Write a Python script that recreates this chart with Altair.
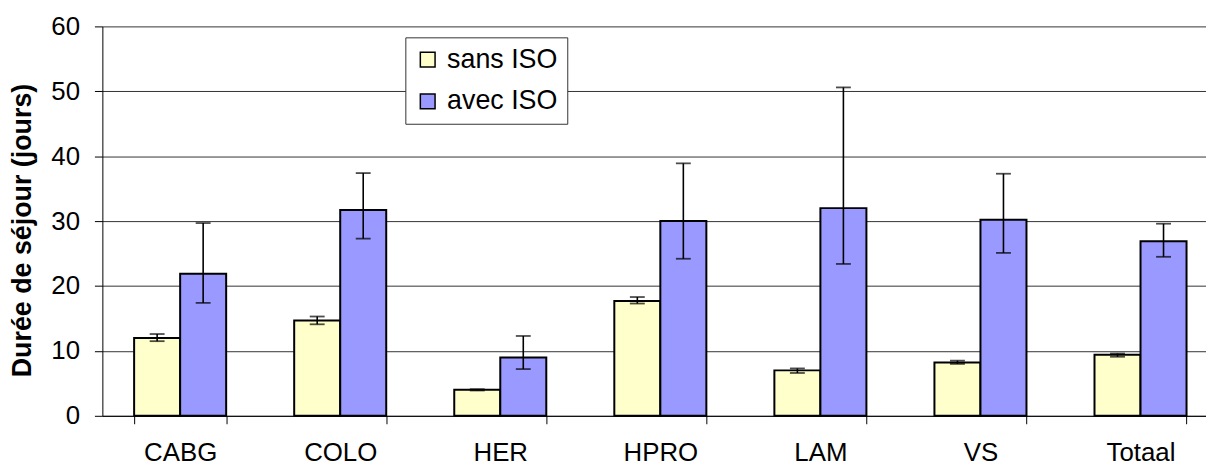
import altair as alt
import pandas as pd

categories = ["CABG", "COLO", "HER", "HPRO", "LAM", "VS", "Totaal"]
series_names = ["sans ISO", "avec ISO"]
series_colors = ["#FFFFCC", "#9999FF"]

sans = [12.0, 14.7, 4.0, 17.7, 7.0, 8.2, 9.4]
sans_lo = [11.5, 14.1, 3.9, 17.3, 6.6, 8.0, 9.1]
sans_hi = [12.6, 15.3, 4.1, 18.3, 7.3, 8.5, 9.6]

avec = [21.9, 31.7, 9.0, 30.0, 32.0, 30.2, 26.9]
avec_lo = [17.4, 27.3, 7.2, 24.2, 23.4, 25.1, 24.5]
avec_hi = [29.7, 37.4, 12.3, 38.9, 50.6, 37.3, 29.6]

y_ticks = [0, 10, 20, 30, 40, 50, 60]

rows = []
for i, c in enumerate(categories):
    rows.append(dict(cat=c, serie=series_names[0], val=sans[i], lo=sans_lo[i], hi=sans_hi[i]))
    rows.append(dict(cat=c, serie=series_names[1], val=avec[i], lo=avec_lo[i], hi=avec_hi[i]))
df = pd.DataFrame(rows)

FONT = "Liberation Sans"

x = alt.X(
    "cat:N", sort=categories, title=None,
    scale=alt.Scale(paddingInner=0.425, paddingOuter=0.16, align=0.62),
    axis=alt.Axis(labelAngle=0, tickBand="extent", tickSize=8, labelPadding=16,
                  labelFontSize=26, labelFont=FONT, labelColor="black",
                  domainColor="black", tickColor="black", grid=False,
                  domainWidth=1, tickWidth=1),
)
xoff = alt.XOffset("serie:N", sort=series_names,
                   scale=alt.Scale(paddingInner=0, paddingOuter=0))

y_scale = alt.Scale(domain=[0, 60], nice=False)
y_axis = alt.Axis(values=y_ticks, title="Durée de séjour (jours)", tickSize=8,
                  labelPadding=15, labelFontSize=26, labelFont=FONT, labelColor="black",
                  titleFont=FONT, titleFontSize=27, titleFontWeight="bold",
                  titleColor="black", titleAngle=270, titleX=-80, titleY=205,
                  titleAlign="center", titleBaseline="middle",
                  domainColor="black", tickColor="black", gridColor="#333",
                  gridWidth=1, domainWidth=1, tickWidth=1)

color = alt.Color(
    "serie:N", sort=series_names,
    scale=alt.Scale(domain=series_names, range=series_colors),
    legend=alt.Legend(title=None, orient="none", legendX=305, legendY=11,
                      labelFontSize=27, labelFont=FONT, labelColor="black",
                      symbolType="square", symbolSize=220, symbolStrokeColor="black",
                      symbolStrokeWidth=1.5, padding=9, rowPadding=14, labelOffset=6,
                      strokeColor="#333", fillColor="white"),
)

base = alt.Chart(df)

bars = base.mark_bar(stroke="black", strokeWidth=2).encode(
    x=x, xOffset=xoff,
    y=alt.Y("val:Q", scale=y_scale, axis=y_axis),
    color=color,
)

rules = base.mark_rule(color="black", strokeWidth=1.6).encode(
    x=x, xOffset=xoff,
    y=alt.Y("lo:Q", scale=y_scale),
    y2="hi:Q",
)

ticks_lo = base.mark_tick(color="black", size=15, thickness=1.8).encode(
    x=x, xOffset=xoff, y=alt.Y("lo:Q", scale=y_scale),
)
ticks_hi = base.mark_tick(color="black", size=15, thickness=1.8).encode(
    x=x, xOffset=xoff, y=alt.Y("hi:Q", scale=y_scale),
)

chart = alt.layer(bars, rules, ticks_lo, ticks_hi).properties(
    width=1111, height=392,
    autosize=alt.AutoSizeParams(type="none"),
    padding={"left": 95, "top": 17, "right": 0, "bottom": 49},
).configure_view(stroke=None)

chart.save("out.html", embed_options={"renderer": "svg", "actions": False})
